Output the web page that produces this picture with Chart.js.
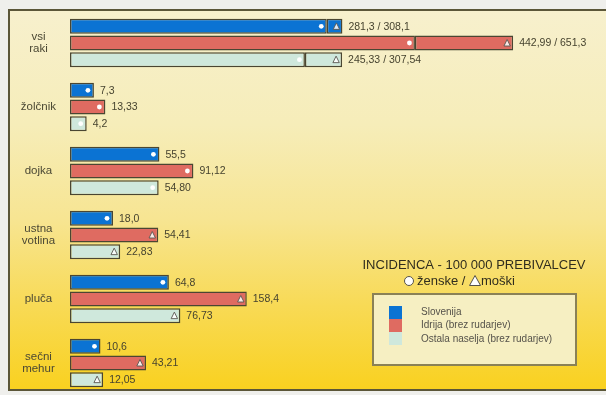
<!DOCTYPE html>
<html>
<head>
<meta charset="utf-8">
<script src="https://cdn.jsdelivr.net/npm/chart.js@4.4.0/dist/chart.umd.min.js"></script>
<style>
  html, body { margin: 0; padding: 0; background: #efefec; }
  #okvir {
    position: absolute; left: 8px; top: 9px; width: 612px; height: 378px;
    border: 2px solid #5b5638;
    background: linear-gradient(to bottom, #f7f0cd 0%, #f6edb9 30%, #f7e592 55%, #f8da55 78%, #f9d120 100%);
  }
  #graf { position: absolute; left: 0; top: 0; }
</style>
</head>
<body>
<div id="okvir"></div>
<canvas id="graf" width="606" height="395"></canvas>
<script>
const kategorije = [['vsi', 'raki'], 'žolčnik', 'dojka', ['ustna', 'votlina'], 'pluča', ['sečni', 'mehur']];
const regije = ['Slovenija', 'Idrija (brez rudarjev)', 'Ostala naselja (brez rudarjev)'];

// incidenca na 100 000 prebivalcev; pri vseh rakih je prva vrednost za ženske
const slovenija = [281.3, 7.3, 55.5, 18.0, 64.8, 10.6];
const idrija = [442.99, 13.33, 91.12, 54.41, 158.4, 43.21];
const ostala = [245.33, 4.2, 54.80, 22.83, 76.73, 12.05];

// moški, samo pri vseh rakih
const slovenijaMoski = [308.1, null, null, null, null, null];
const idrijaMoski = [651.3, null, null, null, null, null];
const ostalaMoski = [307.54, null, null, null, null, null];

// število decimalk v napisih
const slovenijaDec = [1, 1, 1, 1, 1, 1];
const idrijaDec = [2, 2, 2, 2, 1, 2];
const ostalaDec = [2, 1, 2, 2, 2, 2];
const moskiDec = [1, 1, 2];

// o = ženske, t = moški
const slovenijaOznake = ['o', 'o', 'o', 'o', 'o', 'o'];
const idrijaOznake = ['o', 'o', 'o', 't', 't', 't'];
const ostalaOznake = ['o', 'o', 'o', 't', 't', 't'];

const naslov = 'INCIDENCA - 100 000 PREBIVALCEV';

const barve = ['#0b73d3', '#df6b61', '#cfe8dc'];
const obroba = '#4a4632';
const pisava = '"Liberation Sans", Arial, sans-serif';

const vrednosti = [slovenija, idrija, ostala];
const moski = [slovenijaMoski, idrijaMoski, ostalaMoski];
const decimalke = [slovenijaDec, idrijaDec, ostalaDec];
const oznake = [slovenijaOznake, idrijaOznake, ostalaOznake];
const sklopi = ['si', 'id', 'os'];

// stolpci niso linearni: dolžina raste s potenco vrednosti
const POTENCA = 0.65;
class PotencnaOs extends Chart.LinearScale {
  static id = 'potencna';
  static defaults = Chart.LinearScale.defaults;
  getPixelForValue(value) {
    if (value === null || isNaN(value)) return NaN;
    const t = Math.max(value - this.min, 0) / (this.max - this.min);
    return this.getPixelForDecimal(Math.pow(t, POTENCA));
  }
  getValueForPixel(pixel) {
    return this.min + (this.max - this.min) * Math.pow(Math.max(this.getDecimalForPixel(pixel), 0), 1 / POTENCA);
  }
}
Chart.register(PotencnaOs);

function stolpec(label, data, barva, stack) {
  return {
    label, data, stack,
    backgroundColor: barva,
    borderColor: obroba,
    borderWidth: 1.5,
    borderSkipped: false,
    categoryPercentage: 0.78,
    barPercentage: 0.9
  };
}

const datasets = [];
regije.forEach((ime, r) => datasets.push(stolpec(ime, vrednosti[r], barve[r], sklopi[r])));
regije.forEach((ime, r) => {
  const podatki = moski[r].map((m, i) => m === null ? null : [vrednosti[r][i], m]);
  datasets.push(stolpec(ime + ' - moški', podatki, barve[r], sklopi[r]));
});

function zapis(v, dec) {
  return v.toFixed(dec).replace('.', ',');
}

function oznaka(ctx, vrsta, x, y) {
  ctx.save();
  if (vrsta === 'o') {
    ctx.fillStyle = '#ffffff';
    ctx.beginPath();
    ctx.arc(x, y, 2.4, 0, Math.PI * 2);
    ctx.fill();
  } else {
    ctx.fillStyle = 'rgba(255,255,255,0.85)';
    ctx.strokeStyle = '#5a5750';
    ctx.lineWidth = 0.9;
    ctx.beginPath();
    ctx.moveTo(x, y - 3.5);
    ctx.lineTo(x + 3.2, y + 3);
    ctx.lineTo(x - 3.2, y + 3);
    ctx.closePath();
    ctx.fill();
    ctx.stroke();
  }
  ctx.restore();
}

// oznake spola v stolpcih in napisi vrednosti
const napisiPlugin = {
  id: 'napisi',
  afterDatasetsDraw(chart) {
    const ctx = chart.ctx;
    ctx.save();
    ctx.font = '10.5px ' + pisava;
    ctx.fillStyle = '#46432f';
    ctx.textAlign = 'left';
    ctx.textBaseline = 'middle';
    regije.forEach((ime, r) => {
      const osnova = chart.getDatasetMeta(r).data;
      const dodatek = chart.getDatasetMeta(r + 3).data;
      osnova.forEach((bar, i) => {
        const v = vrednosti[r][i];
        const m = moski[r][i];
        let besedilo, x;
        if (m !== null) {
          oznaka(ctx, 'o', bar.x - 5.5, bar.y);
          oznaka(ctx, 't', dodatek[i].x - 6, bar.y);
          besedilo = zapis(v, decimalke[r][i]) + ' / ' + zapis(m, moskiDec[r]);
          x = dodatek[i].x + 6;
        } else {
          oznaka(ctx, oznake[r][i], bar.x - 6, bar.y);
          besedilo = zapis(v, decimalke[r][i]);
          x = bar.x + 6;
        }
        ctx.fillText(besedilo, x, bar.y + 0.5);
      });
    });
    ctx.restore();
  }
};

const legendaPlugin = {
  id: 'legenda',
  afterDraw(chart) {
    const ctx = chart.ctx;
    ctx.save();
    ctx.textBaseline = 'middle';
    ctx.font = '13px ' + pisava;
    ctx.fillStyle = '#302d1e';
    ctx.textAlign = 'center';
    ctx.fillText(naslov, 474, 265);

    // ženske / moški
    ctx.textAlign = 'left';
    let x = 409;
    ctx.fillStyle = '#ffffff';
    ctx.strokeStyle = '#55524a';
    ctx.lineWidth = 1;
    ctx.beginPath();
    ctx.arc(x, 281, 4.5, 0, Math.PI * 2);
    ctx.fill();
    ctx.stroke();
    x += 8;
    ctx.fillStyle = '#302d1e';
    const zenske = 'ženske / ';
    ctx.fillText(zenske, x, 281);
    x += ctx.measureText(zenske).width + 6;
    ctx.fillStyle = '#ffffff';
    ctx.beginPath();
    ctx.moveTo(x, 275.5);
    ctx.lineTo(x + 5.5, 285.5);
    ctx.lineTo(x - 5.5, 285.5);
    ctx.closePath();
    ctx.fill();
    ctx.stroke();
    ctx.fillStyle = '#302d1e';
    ctx.fillText('moški', x + 6, 281);

    // okvir legende
    ctx.fillStyle = '#f6efc2';
    ctx.fillRect(373, 294, 203, 71);
    ctx.strokeStyle = '#8a8156';
    ctx.lineWidth = 2;
    ctx.strokeRect(373, 294, 203, 71);

    ctx.font = '10px ' + pisava;
    regije.forEach((ime, i) => {
      ctx.fillStyle = barve[i];
      ctx.fillRect(389, 306 + i * 13, 13, 13);
      ctx.fillStyle = '#55524a';
      ctx.fillText(ime, 421, 312.5 + i * 13.2);
    });
    ctx.restore();
  }
};

new Chart(document.getElementById('graf'), {
  type: 'bar',
  data: { labels: kategorije, datasets },
  options: {
    indexAxis: 'y',
    responsive: false,
    animation: false,
    layout: { padding: { left: 4, right: 16, top: 11, bottom: 0 } },
    scales: {
      x: { type: 'potencna', min: 0, max: 833, display: false, stacked: false },
      y: {
        grid: { display: false, drawTicks: false },
        border: { display: false },
        afterFit: (os) => {
          os.width = 66;
          os.paddingTop = 0;
          os.paddingBottom = 0;
        },
        ticks: {
          crossAlign: 'center',
          padding: 14,
          autoSkip: false,
          color: '#4b4834',
          font: { family: pisava, size: 11.5, lineHeight: 1 }
        }
      }
    },
    plugins: {
      legend: { display: false },
      tooltip: { enabled: false }
    }
  },
  plugins: [napisiPlugin, legendaPlugin]
});
</script>
</body>
</html>
